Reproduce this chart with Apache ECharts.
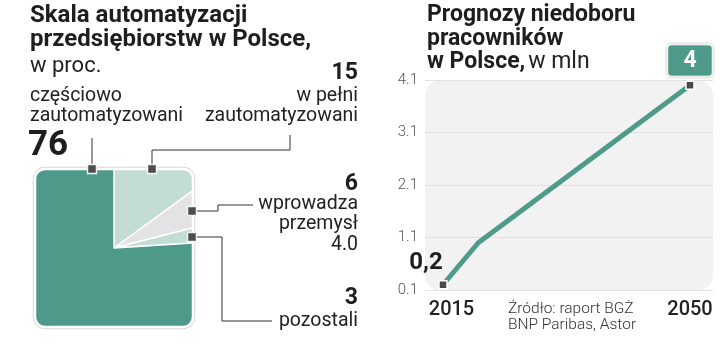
<!DOCTYPE html>
<html><head><meta charset="utf-8">
<script src="https://cdn.jsdelivr.net/npm/echarts@6/dist/echarts.min.js"></script>
<style>html,body{margin:0;padding:0;background:#fff}#c{width:720px;height:362px}</style>
</head><body><div id="c"></div>
<script>
// ---- data ----
const pieNames = ['w pełni zautomatyzowani', 'wprowadza przemysł 4.0', 'pozostali', 'częściowo zautomatyzowani'];
const pieValues = [15, 6, 3, 76];
const pieColors = ['#c3ddd5', '#e3e3e5', '#c3ddd5', '#4d9a8a'];
const years = [2015, 2020, 2050];
const shortage = [0.2, 1.0, 4.0];
const yTicks = [0.1, 1.1, 2.1, 3.1, 4.1];
const xTickLabels = [2015, 2050];

const FONT = 'Roboto';
const DARK = '#1e1e1e';
const chart = echarts.init(document.getElementById('c'), null, {renderer: 'canvas'});

// rounded square mask (keyhole polygon)
const sq = {x0: 35, y0: 169, x1: 193, y1: 327, r: 10};
function arcPts(cx, cy, r, a0, a1, n) {
  const p = [];
  for (let i = 0; i <= n; i++) {
    const a = a0 + (a1 - a0) * i / n;
    p.push([cx + r * Math.cos(a), cy + r * Math.sin(a)]);
  }
  return p;
}
const midY = (sq.y0 + sq.y1) / 2;
let maskPts = [[-10, 125], [250, 125], [250, 372], [-10, 372], [-10, midY], [sq.x0, midY]];
maskPts.push([sq.x0, sq.y1 - sq.r]);
maskPts = maskPts.concat(arcPts(sq.x0 + sq.r, sq.y1 - sq.r, sq.r, Math.PI, Math.PI / 2, 8));
maskPts.push([sq.x1 - sq.r, sq.y1]);
maskPts = maskPts.concat(arcPts(sq.x1 - sq.r, sq.y1 - sq.r, sq.r, Math.PI / 2, 0, 8));
maskPts.push([sq.x1, sq.y0 + sq.r]);
maskPts = maskPts.concat(arcPts(sq.x1 - sq.r, sq.y0 + sq.r, sq.r, 0, -Math.PI / 2, 8));
maskPts.push([sq.x0 + sq.r, sq.y0]);
maskPts = maskPts.concat(arcPts(sq.x0 + sq.r, sq.y0 + sq.r, sq.r, -Math.PI / 2, -Math.PI, 8));
maskPts.push([sq.x0, midY]);
maskPts.push([-10, midY]);

function txt(x, y, text, size, weight, align, color) {
  return {type: 'text', x: x, y: y, z: 120,
    style: {text: text, fontFamily: FONT, fontSize: size, fontWeight: weight || 'normal',
      fill: color || DARK, align: align || 'left', verticalAlign: 'middle'}};
}
function marker(cx, cy) {
  return {type: 'rect', z: 130, shape: {x: cx - 4.5, y: cy - 4.5, width: 9, height: 9},
    style: {fill: '#4d4d4f', stroke: '#f4f4f4', lineWidth: 1.5}};
}
function lead(pts) {
  return {type: 'polyline', z: 125, shape: {points: pts}, style: {stroke: '#333', lineWidth: 1, fill: null}};
}

const graphics = [
  {type: 'rect', z: -10, shape: {x: 425, y: 80, width: 288, height: 211, r: 16}, style: {fill: '#f2f2f2'}},
  {type: 'polygon', z: 100, shape: {points: maskPts}, style: {fill: '#fff'}},
  {type: 'rect', z: 110, shape: {x: sq.x0, y: sq.y0, width: sq.x1 - sq.x0, height: sq.y1 - sq.y0, r: sq.r},
    style: {fill: null, stroke: '#fff', lineWidth: 2.5}},
  {type: 'rect', z: 111, shape: {x: sq.x0 - 1.75, y: sq.y0 - 1.75, width: sq.x1 - sq.x0 + 3.5, height: sq.y1 - sq.y0 + 3.5, r: sq.r + 1.5},
    style: {fill: null, stroke: '#d6d6d6', lineWidth: 1}},
  // left titles
  txt(30, 16, 'Skala automatyzacji', 24, 'bold'),
  txt(30, 40, 'przedsiębiorstw w Polsce,', 24, 'bold'),
  txt(30, 66, 'w proc.', 22, 'normal', 'left', '#222'),
  txt(30, 96, 'częściowo', 19.5, 'normal', 'left', '#222'),
  txt(30, 116, 'zautomatyzowani', 19.5, 'normal', 'left', '#222'),
  txt(28, 146, String(pieValues[3]), 35, 'bold'),
  txt(358, 73, String(pieValues[0]), 23, 'bold', 'right'),
  txt(358, 96, 'w pełni', 19.5, 'normal', 'right', '#222'),
  txt(358, 116, 'zautomatyzowani', 19.5, 'normal', 'right', '#222'),
  txt(358, 184, String(pieValues[1]), 23, 'bold', 'right'),
  txt(358, 204, 'wprowadza', 19.5, 'normal', 'right', '#222'),
  txt(358, 224, 'przemysł', 19.5, 'normal', 'right', '#222'),
  txt(358, 245, '4.0', 19.5, 'normal', 'right', '#222'),
  txt(358, 298, String(pieValues[2]), 23, 'bold', 'right'),
  txt(358, 321, 'pozostali', 19.5, 'normal', 'right', '#222'),
  // leader lines
  lead([[92, 138], [92, 168]]),
  lead([[152, 168], [152, 150], [290, 150], [290, 135]]),
  lead([[192, 211], [218, 211], [218, 205], [253, 205]]),
  lead([[192, 237], [222, 237], [222, 321], [272, 321]]),
  marker(92, 169), marker(152, 169), marker(192, 211), marker(192, 237),
  // right titles
  txt(427, 15, 'Prognozy niedoboru', 23, 'bold'),
  txt(427, 39, 'pracowników', 23, 'bold'),
  {type: 'text', x: 427, y: 62, z: 120, style: {
    text: '{b|w Polsce,} {r|w mln}', fontFamily: FONT, verticalAlign: 'middle', align: 'left',
    rich: {b: {fontFamily: FONT, fontSize: 23, fontWeight: 'bold', fill: DARK, color: DARK},
           r: {fontFamily: FONT, fontSize: 23, fontWeight: 'normal', fill: '#222', color: '#222'}}}},
  txt(508, 309, 'Źródło: raport BGŻ', 15.5, 300, 'left', '#333'),
  txt(508, 325, 'BNP Paribas, Astor', 15.5, 300, 'left', '#333')
];

const lineData = years.map((y, i) => {
  const last = i === years.length - 1;
  const first = i === 0;
  return {
    value: [y, shortage[i]],
    symbol: (first || last) ? 'rect' : 'none',
    label: {
      show: first || last,
      position: 'top',
      distance: 5,
      offset: first ? [-17, 0] : [0, 0],
      formatter: p => String(p.value[1]).replace('.', ','),
      fontFamily: FONT, fontWeight: 'bold', fontSize: first ? 24 : 23,
      color: last ? '#fff' : DARK,
      backgroundColor: last ? '#4d9a8a' : 'transparent',
      borderColor: last ? '#fff' : 'transparent',
      borderWidth: last ? 2 : 0,
      borderRadius: 3,
      padding: last ? [4, 15, 3, 15] : 0,
      shadowColor: last ? 'rgba(0,0,0,0.35)' : 'transparent',
      shadowBlur: last ? 2 : 0
    }
  };
});

chart.setOption({
  animation: false,
  textStyle: {fontFamily: FONT},
  grid: {left: 425, right: 7, top: 80, bottom: 72, containLabel: false},
  xAxis: {
    type: 'value', min: 2012.45, max: 2053.26,
    axisLine: {show: false}, axisTick: {show: false}, splitLine: {show: false},
    axisLabel: {
      customValues: xTickLabels, margin: 10,
      formatter: v => (v === xTickLabels[0] ? '{a|' + v + '}' : '{b|' + v + '}'),
      rich: {
        a: {fontFamily: FONT, fontSize: 20, fontWeight: 500, color: '#222', padding: [0, 0, 0, 17]},
        b: {fontFamily: FONT, fontSize: 20, fontWeight: 500, color: '#222'}
      }
    }
  },
  yAxis: {
    type: 'value', min: yTicks[0], max: yTicks[yTicks.length - 1],
    axisLine: {show: false},
    axisTick: {show: false, customValues: yTicks},
    axisLabel: {customValues: yTicks, margin: 7, formatter: v => v.toFixed(1),
      fontFamily: FONT, fontSize: 15, fontWeight: 300, color: '#555'},
    splitLine: {show: true, lineStyle: {color: '#e1e1e1', width: 1}}
  },
  series: [
    {
      type: 'pie', center: [114, 248], radius: [0, 118], startAngle: 90, clockwise: true,
      label: {show: false}, labelLine: {show: false}, silent: true,
      itemStyle: {borderColor: '#fff', borderWidth: 1.5},
      data: pieNames.map((n, i) => ({name: n, value: pieValues[i], itemStyle: {color: pieColors[i]}}))
    },
    {
      type: 'line', data: lineData, symbolSize: 8,
      lineStyle: {color: '#4f9b8b', width: 5, join: 'round'},
      itemStyle: {color: '#4a4a4c', borderColor: '#fff', borderWidth: 1.5},
      z: 5
    }
  ],
  graphic: {elements: graphics}
});
</script></body></html>
